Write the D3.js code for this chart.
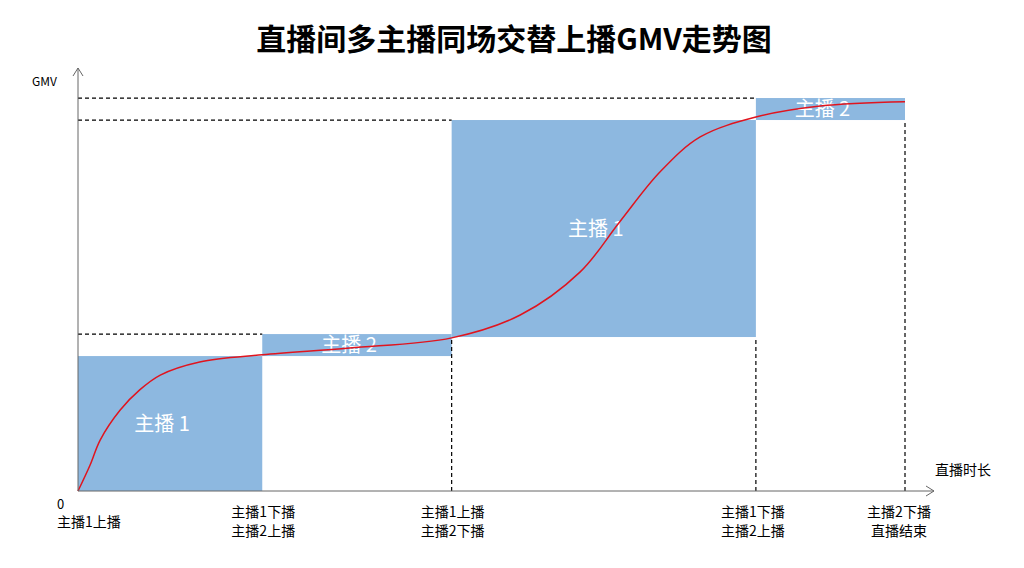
<!DOCTYPE html><html><head><meta charset="utf-8"><script src="https://cdn.jsdelivr.net/npm/d3@7"></script>
<style>body{margin:0;background:#fff}text{font-family:"Noto Sans CJK SC","Noto Sans",sans-serif}</style></head><body><svg id="c" width="1024" height="568"></svg>
<script>
const title="直播间多主播同场交替上播GMV走势图";
const tickTimes=[0,21.5,43.6,79.1,96.5];
const tickLabels=[["0","主播1上播"],["主播1下播","主播2上播"],["主播1上播","主播2下播"],["主播1下播","主播2上播"],["主播2下播","直播结束"]];
const barNames=["主播 1","主播 2","主播 1","主播 2"];
const barX0=[0,21.5,43.6,79.1], barX1=[21.5,43.6,79.1,96.5];
const barY0=[0,31.9,36.4,87.7], barY1=[31.9,37.1,87.7,92.9];
const curveX=[0,1.4,2.6,4.9,7.2,9.6,14.2,21.5,31.7,43.6,51.6,58.6,63.2,67.9,72.6,79.1,86.6,96.5];
const curveY=[0,6.1,12.1,19.1,23.9,27.4,30.5,32.2,33.8,36.2,41.6,51.8,63.6,75.4,83.7,88.4,91.0,92.0];
const svg=d3.select("#c");
const x=d3.scaleLinear().domain([0,100]).range([78,935]);
const y=d3.scaleLinear().domain([0,100]).range([491,68]);
svg.append("text").attr("x",514).attr("y",50).attr("text-anchor","middle").attr("font-size",30).attr("font-weight","bold").text(title);
barNames.forEach((n,i)=>{
 svg.append("rect").attr("x",x(barX0[i])).attr("y",y(barY1[i])).attr("width",x(barX1[i])-x(barX0[i])).attr("height",y(barY0[i])-y(barY1[i])).attr("fill","#8db8e0");
});
const dash=(x1,y1,x2,y2)=>svg.append("line").attr("x1",x(x1)).attr("y1",y(y1)).attr("x2",x(x2)).attr("y2",y(y2)).attr("stroke","#000").attr("stroke-width",1.2).attr("stroke-dasharray","4,3");
dash(0,barY1[1],barX1[0],barY1[1]);
dash(0,barY1[2],barX0[2],barY1[2]);
dash(0,barY1[3],barX0[3],barY1[3]);
dash(barX0[2],0,barX0[2],barY0[2]);
dash(barX0[3],0,barX0[3],barY0[2]);
dash(barX1[3],0,barX1[3],barY0[3]);
barNames.forEach((n,i)=>{
 const mx=(x(barX0[i])+x(barX1[i]))/2-8, my=(y(barY0[i])+y(barY1[i]))/2;
 svg.append("text").attr("x",mx).attr("y",my+7).attr("text-anchor","middle").attr("fill","#fff").attr("font-size",20).text(n);
});
svg.append("path").datum(curveX.map((v,i)=>[v,curveY[i]])).attr("d",d3.line().x(d=>x(d[0])).y(d=>y(d[1])).curve(d3.curveCatmullRom)).attr("fill","none").attr("stroke","#e0141e").attr("stroke-width",1.5);
const ax="#666";
svg.append("line").attr("x1",78).attr("y1",491).attr("x2",934).attr("y2",491).attr("stroke",ax);
svg.append("path").attr("d","M926,486L934,491L926,496").attr("fill","none").attr("stroke",ax);
svg.append("line").attr("x1",78).attr("y1",491).attr("x2",78).attr("y2",68).attr("stroke",ax);
svg.append("path").attr("d","M73,76L78,68L83,76").attr("fill","none").attr("stroke",ax);
svg.append("text").attr("x",32).attr("y",86).attr("font-size",12).text("GMV");
svg.append("text").attr("x",935).attr("y",475).attr("font-size",14).text("直播时长");
tickTimes.forEach((t,i)=>{
 const g=svg.append("text").attr("font-size",14).attr("text-anchor",i==0?"start":"middle");
 if(i==0){g.append("tspan").attr("x",57).attr("y",509).attr("font-size",13).text(tickLabels[i][0]);g.append("tspan").attr("x",57).attr("y",527).text(tickLabels[i][1]);}
 else{g.append("tspan").attr("x",x(t)+(i==4?-6:i==3?-3:1)).attr("y",517).text(tickLabels[i][0]);g.append("tspan").attr("x",x(t)+(i==4?-6:i==3?-3:1)).attr("y",536).text(tickLabels[i][1]);}
});
</script></body></html>
